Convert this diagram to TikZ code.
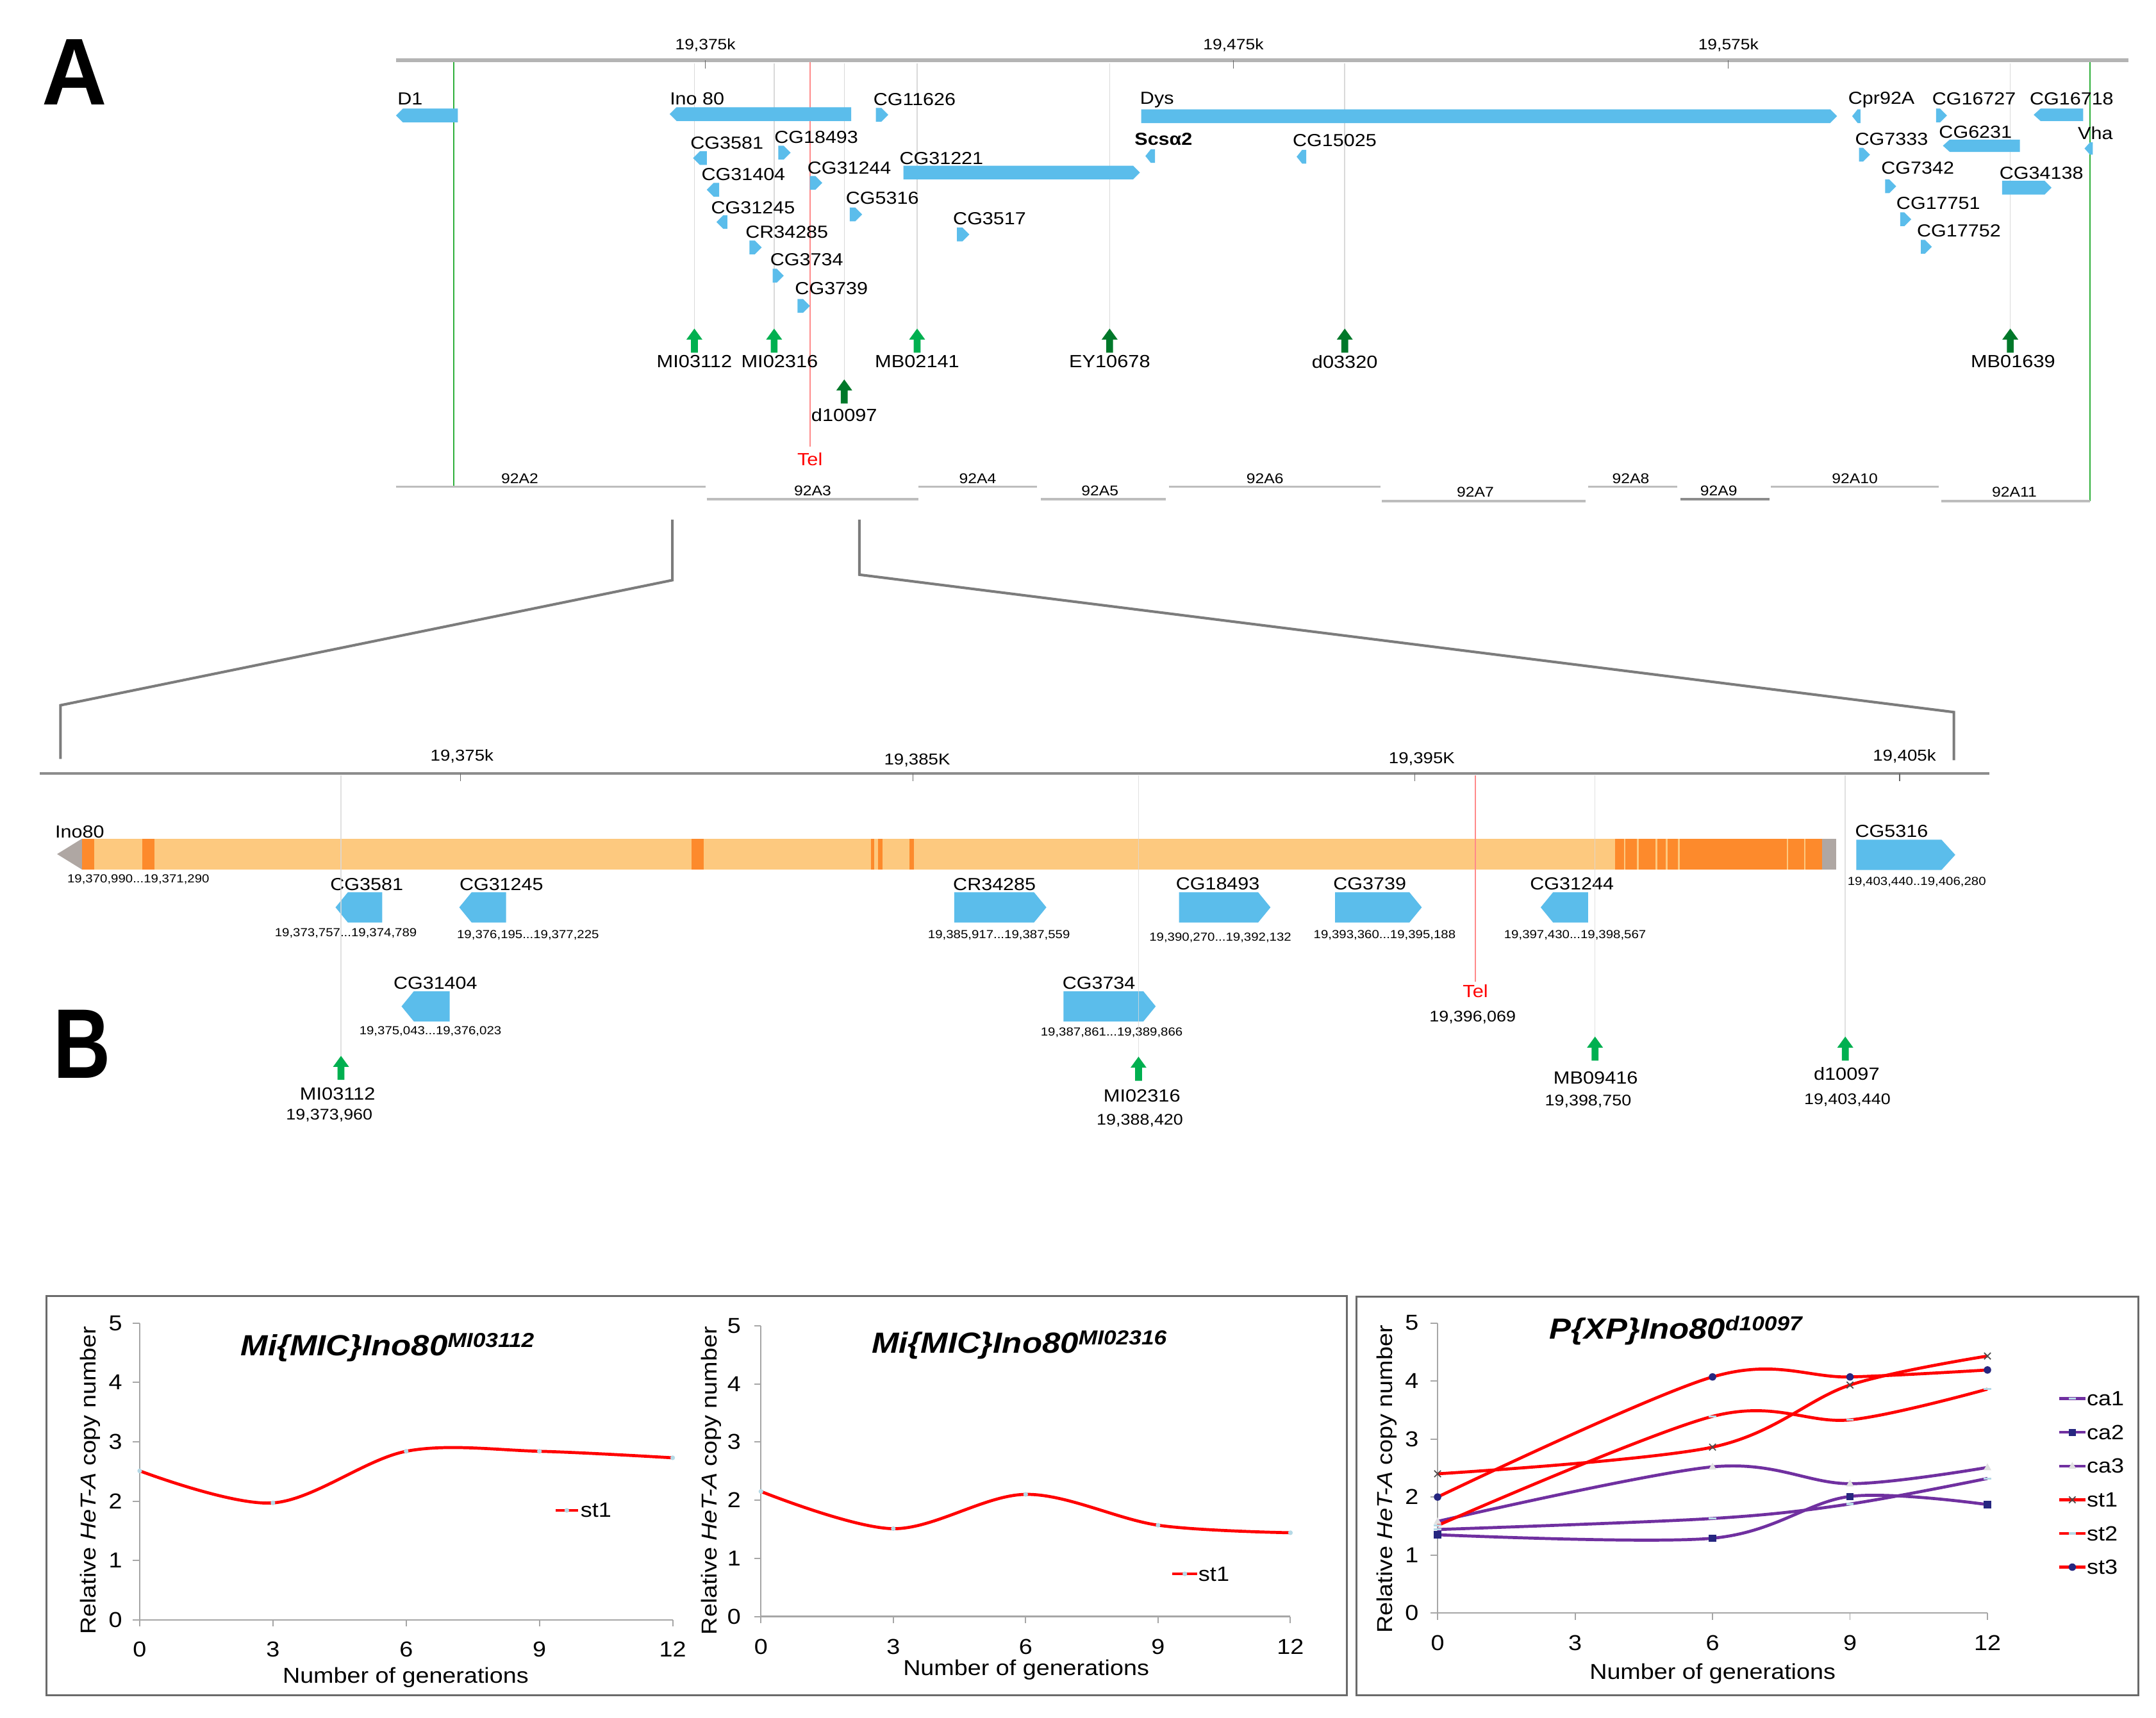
\documentclass[tikz,border=0pt]{standalone}
\usepackage{fontspec}
\setmainfont[FakeStretch=1.12]{Liberation Sans}
\newfontfamily\bigAfont[FakeStretch=0.95]{Liberation Sans}
\newfontfamily\bigBfont[FakeStretch=0.8]{Liberation Sans}
\usetikzlibrary{calc}
\definecolor{genecol}{HTML}{5BBDEB}
\definecolor{lightorg}{HTML}{FDC97F}
\definecolor{darkorg}{HTML}{FD8A2C}
\definecolor{endgray}{HTML}{AFA7A3}
\definecolor{brgreen}{HTML}{00B050}
\definecolor{dkgreen}{HTML}{00782A}
\definecolor{vgreen}{HTML}{2EAF3A}
\definecolor{telred}{HTML}{FF8A8A}
\definecolor{axgray}{HTML}{B4B4B4}
\definecolor{axgrayB}{HTML}{8C8C8C}
\definecolor{bandgray}{HTML}{BDBDBD}
\definecolor{zoomgray}{HTML}{7C7C7C}
\definecolor{purp}{HTML}{7030A0}
\definecolor{mk}{HTML}{B5D9E6}
\definecolor{dkblue}{HTML}{262680}
\definecolor{boxgray}{HTML}{6A6A6A}
\definecolor{chartax}{HTML}{A6A6A6}
\newcommand{\fs}[1]{\fontsize{#1}{#1}\selectfont}
\newcommand{\geneR}[5]{\fill[genecol] (#1,#3-#4/2) -- (#2-#5,#3-#4/2) -- (#2,#3) -- (#2-#5,#3+#4/2) -- (#1,#3+#4/2) -- cycle;}
\newcommand{\geneL}[5]{\fill[genecol] (#1,#3) -- (#1+#5,#3-#4/2) -- (#2,#3-#4/2) -- (#2,#3+#4/2) -- (#1+#5,#3+#4/2) -- cycle;}
\newcommand{\mkarrow}[3]{\fill[#3] (#1,#2) -- (#1+5.8,#2+8) -- (#1+2.5,#2+8) -- (#1+2.5,#2+17.5) -- (#1-2.5,#2+17.5) -- (#1-2.5,#2+8) -- (#1-5.8,#2+8) -- cycle;}
\tikzset{
  glab/.style={font=\fs{12.7}, inner sep=0pt, anchor=west},
  ticklab/.style={font=\fs{11}, inner sep=0pt},
  tickB/.style={font=\fs{11.5}, inner sep=0pt},
  mklab/.style={font=\fs{12.8}, inner sep=0pt},
  bandlab/.style={font=\fs{10.3}, inner sep=0pt},
  rangelab/.style={font=\fs{8.5}, inner sep=0pt},
  coordlab/.style={font=\fs{11.2}, inner sep=0pt},
  faintline/.style={draw=black!15, line width=0.7pt},
  bandline/.style={draw=bandgray, line width=1.6pt},
  zoomline/.style={draw=zoomgray, line width=1.9pt},
  chartlab/.style={font=\fs{15.7}, inner sep=0pt},
  leglab/.style={font=\fs{15}, inner sep=0pt, anchor=west},
  charttitle/.style={font=\fs{21.2}\bfseries\itshape, inner sep=0pt, anchor=base west},
  cax/.style={draw=chartax, line width=1.1pt},
  ser/.style={line width=2.2pt},
}
\begin{document}
\begin{tikzpicture}[x=1pt,y=-1pt]
\useasboundingbox (0,0) rectangle (1568,1249.6);
\fill[white] (0,0) rectangle (1568,1249.6);

% ================= Panel A =================
\node[font=\bigAfont\fs{69}\bfseries, inner sep=0pt] (letA) at (54,52.5) {A};

% faint marker lines
\foreach \xx in {505,563,667,807,978,1462} {\draw[faintline] (\xx,46) -- (\xx,239);}
\draw[faintline] (614,46) -- (614,276);

% axis
\draw[draw=axgray, line width=2.7pt] (288,44) -- (1548,44);
\foreach \xx in {513,897,1257} {\draw[black!60, line width=0.6pt] (\xx,44) -- (\xx,50);}
\node[ticklab] (tkA1) at (513,33) {19,375k};
\node[ticklab] (tkA2) at (897,33) {19,475k};
\node[ticklab] (tkA3) at (1257,33) {19,575k};

% boundary lines
\draw[vgreen, line width=0.9pt] (330,45) -- (330,354);
\draw[vgreen, line width=0.9pt] (1520,45) -- (1520,364.5);
\draw[telred, line width=0.8pt] (589,45) -- (589,325);
\node[mklab, text=red] (telA) at (589,334) {Tel};

% genes
\geneL{288}{333}{84}{10}{5}
\geneL{487}{619}{83}{10}{5}
\geneR{637}{646}{83.5}{10}{5}
\geneR{830}{1336}{84.5}{10}{5}
\geneL{1347}{1353}{84.5}{10}{4}
\geneR{1408}{1416}{84}{10}{5}
\geneL{1479}{1515}{83.5}{9}{5}
\geneL{504}{514}{115}{10}{5}
\geneR{566}{575}{111}{10}{5}
\geneL{514}{523}{138}{10}{5}
\geneR{589}{598}{133}{10}{5}
\geneR{657}{829}{125.5}{10}{5}
\geneR{618}{627}{156}{10}{5}
\geneL{521}{529}{161.5}{10}{5}
\geneR{545}{554}{180}{10}{5}
\geneR{696}{705}{170.5}{10}{5}
\geneR{562}{570}{200.5}{10}{5}
\geneR{580}{589}{222.5}{10}{5}
\geneL{833}{840}{113.5}{10}{4}
\geneL{943}{950}{114}{10}{4}
\geneR{1352}{1360}{112.5}{10}{5}
\geneL{1413}{1469}{106}{9}{5}
\geneL{1516}{1522}{108}{9}{4}
\geneR{1371}{1379}{135.5}{10}{5}
\geneR{1456}{1492}{136.5}{10}{5}
\geneR{1382}{1390}{159.5}{10}{5}
\geneR{1397}{1405}{179.5}{10}{5}

% gene labels
\node[glab] (aD1) at (289,72) {D1};
\node[glab] (aIno) at (487,72) {Ino 80};
\node[glab] (aCG11626) at (635,72.5) {CG11626};
\node[glab] (aDys) at (829,72.5) {Dys};
\node[glab] (aCpr) at (1344,72.5) {Cpr92A};
\node[glab] (aCG16727) at (1405,72) {CG16727};
\node[glab] (aCG16718) at (1476,72) {CG16718};
\node[glab] (aCG3581) at (502,104) {CG3581};
\node[glab] (aCG18493) at (563,100) {CG18493};
\node[glab] (aCG31404) at (510,127) {CG31404};
\node[glab] (aCG31244) at (587,122) {CG31244};
\node[glab] (aCG31221) at (654,115) {CG31221};
\node[glab] (aCG5316) at (615,144) {CG5316};
\node[glab] (aCG31245) at (517,151) {CG31245};
\node[glab] (aCR34285) at (542,169) {CR34285};
\node[glab] (aCG3517) at (693,159) {CG3517};
\node[glab] (aCG3734) at (560,189) {CG3734};
\node[glab] (aCG3739) at (578,210) {CG3739};
\node[glab, font=\fs{12.7}\bfseries] (aScs) at (825,101) {Scsα2};
\node[glab] (aCG15025) at (940,102) {CG15025};
\node[glab] (aCG7333) at (1349,101) {CG7333};
\node[glab] (aCG6231) at (1410,96) {CG6231};
\node[glab] (aVha) at (1511,97) {Vha};
\node[glab] (aCG7342) at (1368,122) {CG7342};
\node[glab] (aCG34138) at (1454,126) {CG34138};
\node[glab] (aCG17751) at (1379,148) {CG17751};
\node[glab] (aCG17752) at (1394,168) {CG17752};

% insertion markers
\mkarrow{505}{239}{brgreen}
\mkarrow{563}{239}{brgreen}
\mkarrow{667}{239}{brgreen}
\mkarrow{807}{239}{dkgreen}
\mkarrow{978}{239}{dkgreen}
\mkarrow{1462}{239}{dkgreen}
\mkarrow{614}{276}{dkgreen}
\node[mklab] (mA1) at (505,263) {MI03112};
\node[mklab] (mA2) at (567,263) {MI02316};
\node[mklab] (mA3) at (667,263) {MB02141};
\node[mklab] (mA4) at (807,263) {EY10678};
\node[mklab] (mA5) at (978,263) {d03320};
\node[mklab] (mA6) at (1464,263) {MB01639};
\node[mklab] (mA7) at (614,302) {d10097};

% cytological bands
\draw[bandline] (288,354) -- (513,354);
\draw[bandline] (514,363) -- (668,363);
\draw[bandline] (668,354) -- (754,354);
\draw[bandline] (757,363) -- (848,363);
\draw[bandline] (850,354) -- (1004,354);
\draw[bandline] (1005,364.5) -- (1153,364.5);
\draw[bandline] (1155,354) -- (1220,354);
\draw[draw=black!45, line width=1.6pt] (1222,363) -- (1287,363);
\draw[bandline] (1288,354) -- (1410,354);
\draw[bandline] (1412,364.5) -- (1520,364.5);
\node[bandlab] (b2) at (378,348) {92A2};
\node[bandlab] (b3) at (591,357) {92A3};
\node[bandlab] (b4) at (711,348) {92A4};
\node[bandlab] (b5) at (800,357) {92A5};
\node[bandlab] (b6) at (920,348) {92A6};
\node[bandlab] (b7) at (1073,358) {92A7};
\node[bandlab] (b8) at (1186,348) {92A8};
\node[bandlab] (b9) at (1250,357) {92A9};
\node[bandlab] (b10) at (1349,348) {92A10};
\node[bandlab] (b11) at (1465,358) {92A11};

% zoom connectors
\coordinate (zl1) at (489,378);
\coordinate (zl2) at (489,422);
\coordinate (zl3) at (44,513);
\coordinate (zl4) at (44,552);
\coordinate (zr1) at (625,378);
\coordinate (zr2) at (625,418);
\coordinate (zr3) at (1421,518);
\coordinate (zr4) at (1421,553);
\draw[zoomline] (zl1) -- (zl2) -- (zl3) -- (zl4);
\draw[zoomline] (zr1) -- (zr2) -- (zr3) -- (zr4);

% ================= Panel B =================
\node[font=\bigBfont\fs{72}\bfseries, inner sep=0pt] (letB) at (59.5,759.5) {B};

\draw[draw=axgrayB, line width=1.7pt] (29,562.5) -- (1447,562.5);
\foreach \xx in {335,664,1029,1381.5} {\draw[black!60, line width=0.6pt] (\xx,562.5) -- (\xx,568);}
\node[tickB] (tkB1) at (336,550) {19,375k};
\node[tickB] (tkB2) at (667,553) {19,385K};
\node[tickB] (tkB3) at (1034,552) {19,395K};
\node[tickB] (tkB4) at (1385,550) {19,405k};

% Ino80 gene model
\fill[lightorg] (59.7,610) rectangle (1325,632.5);
\fill[endgray] (41.5,621.25) -- (59.7,610) -- (59.7,632.5) -- cycle;
\fill[endgray] (1325,610) rectangle (1335.5,632.5);
\foreach \a/\b in {59.7/68.3, 103.6/112.2, 503/512, 633.5/636, 638.6/642, 661.4/664.7, 1174.6/1181, 1182.2/1190.4, 1191.6/1204, 1205.2/1211.4, 1212.6/1220.4, 1221.6/1299.4, 1300.6/1312, 1313.2/1325}
  {\fill[darkorg] (\a,610) rectangle (\b,632.5);}
\node[glab] (bIno) at (40,605) {Ino80};
\node[rangelab] (rIno) at (100.6,639.5) {19,370,990...19,371,290};

% genes B
\geneL{244}{278}{660}{22}{9}
\geneL{334}{368}{660}{22}{9}
\geneR{694}{761}{660}{22}{9}
\geneR{857.5}{924}{660}{22}{9}
\geneR{971}{1034}{660}{22}{9}
\geneL{1120.5}{1155}{660}{22}{9}
\geneL{292}{327}{732}{22}{9}
\geneR{773.5}{840.5}{732}{22}{9}
\geneR{1350}{1422}{621.8}{22}{10}

\node[glab] (bCG3581) at (240,643.5) {CG3581};
\node[glab] (bCG31245) at (334,643.5) {CG31245};
\node[glab] (bCR34285) at (693,643.5) {CR34285};
\node[glab] (bCG18493) at (855,643) {CG18493};
\node[glab] (bCG3739) at (969.5,643) {CG3739};
\node[glab] (bCG31244) at (1112.6,643) {CG31244};
\node[glab] (bCG31404) at (286,715) {CG31404};
\node[glab] (bCG3734) at (772.5,715) {CG3734};
\node[glab] (bCG5316) at (1349,604.5) {CG5316};

\node[rangelab] (r1) at (251.5,679) {19,373,757...19,374,789};
\node[rangelab] (r2) at (384,680) {19,376,195...19,377,225};
\node[rangelab] (r3) at (726.5,680) {19,385,917...19,387,559};
\node[rangelab] (r4) at (887.5,682) {19,390,270...19,392,132};
\node[rangelab] (r5) at (1007,680) {19,393,360...19,395,188};
\node[rangelab] (r6) at (1145.5,680) {19,397,430...19,398,567};
\node[rangelab] (r7) at (1394,641.5) {19,403,440..19,406,280};
\node[rangelab] (r8) at (313,750) {19,375,043...19,376,023};
\node[rangelab] (r9) at (808.5,751) {19,387,861...19,389,866};

% marker lines B (over the gene model)
\draw[faintline, draw opacity=0.8] (248,564) -- (248,768);
\draw[faintline, draw opacity=0.8] (828,564) -- (828,768.6);
\draw[faintline, draw opacity=0.8] (1160,564) -- (1160,754);
\draw[faintline, draw opacity=0.8] (1342,564) -- (1342,754);
\draw[telred, line width=0.8pt] (1073,564) -- (1073,714);
\node[mklab, text=red] (telB) at (1073,721) {Tel};
\node[coordlab] (telBc) at (1071,740) {19,396,069};

\mkarrow{248}{768}{brgreen}
\mkarrow{828}{768.6}{brgreen}
\mkarrow{1160}{754}{brgreen}
\mkarrow{1342}{754}{brgreen}
\node[mklab] (mB1) at (245.5,795.5) {MI03112};
\node[coordlab] (mB1c) at (239.5,811.5) {19,373,960};
\node[mklab] (mB2) at (830.5,797) {MI02316};
\node[coordlab] (mB2c) at (829,815) {19,388,420};
\node[mklab] (mB3) at (1160.5,784) {MB09416};
\node[coordlab] (mB3c) at (1155,801) {19,398,750};
\node[mklab] (mB4) at (1343,781) {d10097};
\node[coordlab] (mB4c) at (1343.5,800) {19,403,440};

% ================= Charts =================
\draw[boxgray, line width=1.4pt] (33.6,942.8) rectangle (979.4,1233);
\draw[boxgray, line width=1.4pt] (986.5,943) rectangle (1555,1233);

% ---- chart 1
\begin{scope}[shift={(101.6,1178.2)}]
\begin{scope}[x=32.3pt, y=43.16pt]
\draw[cax] (0,0) -- (0,5);
\draw[cax] (0,0) -- (12,0);
\foreach \v in {0,...,5} {\draw[cax, line width=0.9pt] (0,\v) -- ++(-5pt,0); \node[chartlab, anchor=east] (c1y\v) at (-0.39,\v) {\v};}
\foreach \xx in {0,3,...,12} {\draw[cax, line width=0.9pt] (\xx,0) -- ++(0,-5pt); \node[chartlab] (c1x\xx) at (\xx,-0.5) {\xx};}
\draw[red, ser] plot[smooth, tension=0.55] coordinates {(0,2.51) (3,1.97) (6,2.84) (9,2.84) (12,2.73)};
\foreach \xx/\yy in {0/2.51, 3/1.97, 6/2.84, 9/2.84, 12/2.73} {\fill[mk] (\xx,\yy) circle[radius=1.7pt];}
\end{scope}
\end{scope}
\node[chartlab, rotate=90] (c1yl) at (65.4,1076.8) {Relative \textit{HeT-A} copy number};
\node[chartlab] (c1xl) at (295,1220) {Number of generations};
\node[charttitle] (c1t) at (175,986) {Mi\{MIC\}Ino80\raisebox{6pt}{\fs{14.7}MI03112}};
\coordinate (lg1a) at (404,1098.6);
\coordinate (lg1b) at (420.5,1098.6);
\draw[red, ser] (lg1a) -- (lg1b);
\fill[mk] (412.2,1098.6) circle[radius=1.7];
\node[leglab] (lg1) at (422,1098.6) {st1};

% ---- chart 2
\begin{scope}[shift={(553.4,1175.8)}]
\begin{scope}[x=32.09pt, y=42.3pt]
\draw[cax] (0,0) -- (0,5);
\draw[cax] (0,0) -- (12,0);
\foreach \v in {0,...,5} {\draw[cax, line width=0.9pt] (0,\v) -- ++(-5pt,0); \node[chartlab, anchor=east] (c2y\v) at (-0.45,\v) {\v};}
\foreach \xx in {0,3,...,12} {\draw[cax, line width=0.9pt] (\xx,0) -- ++(0,-5pt); \node[chartlab] (c2x\xx) at (\xx,-0.52) {\xx};}
\draw[red, ser] plot[smooth, tension=0.55] coordinates {(0,2.15) (3,1.51) (6,2.10) (9,1.57) (12,1.44)};
\foreach \xx/\yy in {0/2.15, 3/1.51, 6/2.10, 9/1.57, 12/1.44} {\fill[mk] (\xx,\yy) circle[radius=1.7pt];}
\end{scope}
\end{scope}
\node[chartlab, rotate=90] (c2yl) at (517.2,1077) {Relative \textit{HeT-A} copy number};
\node[chartlab] (c2xl) at (746.3,1214.5) {Number of generations};
\node[charttitle] (c2t) at (633.8,984) {Mi\{MIC\}Ino80\raisebox{6pt}{\fs{14.7}MI02316}};
\coordinate (lg2a) at (852.6,1144.8);
\coordinate (lg2b) at (870.8,1144.8);
\draw[red, ser] (lg2a) -- (lg2b);
\fill[mk] (861.7,1144.8) circle[radius=1.7];
\node[leglab] (lg2) at (871.4,1144.8) {st1};

% ---- chart 3
\begin{scope}[shift={(1045.5,1173.3)}]
\begin{scope}[x=33.325pt, y=42.2pt]
\draw[cax] (0,0) -- (0,5);
\draw[cax] (0,0) -- (12,0);
\foreach \v in {0,...,5} {\draw[cax, line width=0.9pt] (0,\v) -- ++(-5pt,0); \node[chartlab, anchor=east] (c3y\v) at (-0.41,\v) {\v};}
\foreach \xx in {0,3,...,12} {\draw[cax, line width=0.9pt] (\xx,0) -- ++(0,-5pt); \node[chartlab] (c3x\xx) at (\xx,-0.51) {\xx};}
% purple series
\draw[purp, ser] plot[smooth, tension=0.55] coordinates {(0,1.44) (6,1.63) (9,1.88) (12,2.32)};
\draw[purp, ser] plot[smooth, tension=0.55] coordinates {(0,1.35) (6,1.29) (9,2.01) (12,1.87)};
\draw[purp, ser] plot[smooth, tension=0.55] coordinates {(0,1.58) (6,2.52) (9,2.23) (12,2.51)};
% red series
\draw[red, ser] plot[smooth, tension=0.55] coordinates {(0,2.40) (6,2.86) (9,3.93) (12,4.43)};
\draw[red, ser] plot[smooth, tension=0.55] coordinates {(0,1.51) (6,3.39) (9,3.33) (12,3.86)};
\draw[red, ser] plot[smooth, tension=0.55] coordinates {(0,2.00) (6,4.07) (9,4.07) (12,4.19)};
% markers
\foreach \xx/\yy in {0/1.44, 6/1.63, 9/1.88, 12/2.32} {\draw[mk, line width=1.5pt] (\xx,\yy) ++(-2.6pt,0) -- ++(5.2pt,0);}
\foreach \xx/\yy in {0/1.35, 6/1.29, 9/2.01, 12/1.87} {\fill[dkblue] (\xx,\yy) ++(-2.6pt,-2.6pt) rectangle ++(5.2pt,5.2pt);}
\foreach \xx/\yy in {0/1.58, 6/2.52, 9/2.23, 12/2.51} {\fill[black!12] (\xx,\yy) ++(0,3pt) -- ++(2.8pt,-5pt) -- ++(-5.6pt,0) -- cycle;}
\foreach \xx/\yy in {0/2.40, 6/2.86, 9/3.93, 12/4.43} {\draw[black!70, line width=0.8pt] (\xx,\yy) ++(-2.4pt,-2.4pt) -- ++(4.8pt,4.8pt) ++(-4.8pt,0) -- ++(4.8pt,-4.8pt);}
\foreach \xx/\yy in {0/1.51, 6/3.39, 9/3.33, 12/3.86} {\draw[mk, line width=1.5pt] (\xx,\yy) ++(-2.6pt,0) -- ++(5.2pt,0);}
\foreach \xx/\yy in {0/2.00, 6/4.07, 9/4.07, 12/4.19} {\fill[dkblue] (\xx,\yy) circle[radius=2.7pt];}
\end{scope}
\end{scope}
\node[chartlab, rotate=90] (c3yl) at (1008.7,1076) {Relative \textit{HeT-A} copy number};
\node[chartlab] (c3xl) at (1245.5,1217.4) {Number of generations};
\node[charttitle] (c3t) at (1126.6,974) {P\{XP\}Ino80\raisebox{6pt}{\fs{14.7}d10097}};

% legend chart 3
\foreach \yy/\cc/\nm/\id in {1017.3/purp/ca1/1, 1041.8/purp/ca2/2, 1066.4/purp/ca3/3, 1090.9/red/st1/4, 1115.4/red/st2/5, 1139.9/red/st3/6}
  {\draw[\cc, ser] (1497.4,\yy) -- (1516.8,\yy); \node[leglab] (lg3\id) at (1517.5,\yy) {\nm};}
\draw[mk, line width=1.5pt] (1504.5,1017.3) -- (1509.7,1017.3);
\fill[dkblue] (1504.5,1039.2) rectangle (1509.7,1044.4);
\fill[black!12] (1507.1,1063.4) -- (1509.9,1068.4) -- (1504.3,1068.4) -- cycle;
\draw[black!70, line width=0.8pt] (1504.7,1088.5) -- (1509.5,1093.3) (1504.7,1093.3) -- (1509.5,1088.5);
\draw[mk, line width=1.5pt] (1504.5,1115.4) -- (1509.7,1115.4);
\fill[dkblue] (1507.1,1139.9) circle[radius=2.7];
\end{tikzpicture}
\end{document}
